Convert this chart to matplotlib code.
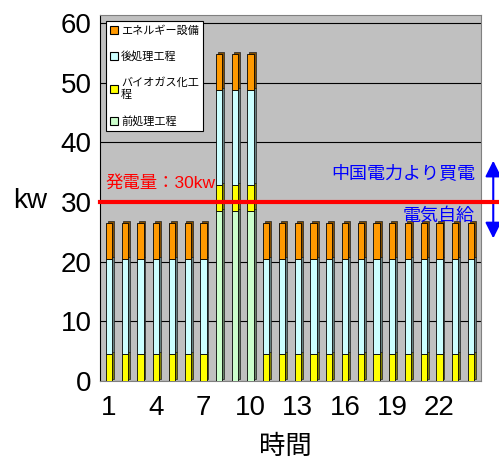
import numpy as np
import matplotlib
matplotlib.use('Agg')
import matplotlib.pyplot as plt
from matplotlib.patches import Patch
from matplotlib.colors import to_rgb

plt.rcParams['font.family'] = ['Liberation Sans', 'Noto Sans CJK JP']

hours = np.arange(1, 25)
# kW per process, stacked bottom to top
pretreat = [0, 0, 0, 0, 0, 0, 0, 28.5, 28.5, 28.5, 0, 0,
            0, 0, 0, 0, 0, 0, 0, 0, 0, 0, 0, 0]
biogas = [4.5, 4.5, 4.5, 4.5, 4.5, 4.5, 4.5, 4.3, 4.3, 4.3, 4.5, 4.5,
          4.5, 4.5, 4.5, 4.5, 4.5, 4.5, 4.5, 4.5, 4.5, 4.5, 4.5, 4.5]
posttreat = [16] * 24
energy = [6] * 24
generation = 30
xticks = [1, 4, 7, 10, 13, 16, 19, 22]

series = [
    ('前処理工程', pretreat, '#CCFFCC'),
    ('バイオガス化工\n程', biogas, '#FFFF00'),
    ('後処理工程', posttreat, '#CCFFFF'),
    ('エネルギー設備', energy, '#FF9900'),
]

fig = plt.figure(figsize=(4.99, 4.63), dpi=100)
ax = fig.add_axes([0.2004, 0.177, 0.7635, 0.7905])
ax.set_facecolor('#C0C0C0')
ax.set_xlim(0.43, 24.64)
ax.set_ylim(0, 61.3)

w = 0.4
dx, dy = 0.12, 0.35

def darker(c, f=0.5):
    r, g, b = to_rgb(c)
    return (r * f, g * f, b * f)

# side/top faces first, then the front faces
bottom = np.zeros(24)
for name, vals, col in series:
    vals = np.array(vals, dtype=float)
    m = vals > 0
    ax.bar(hours[m] + dx, vals[m], w, bottom=bottom[m] + dy,
           color=darker(col), edgecolor='#202020', linewidth=0.5, zorder=2)
    bottom += vals

bottom = np.zeros(24)
for name, vals, col in series:
    vals = np.array(vals, dtype=float)
    m = vals > 0
    ax.bar(hours[m], vals[m], w, bottom=bottom[m],
           color=col, edgecolor='black', linewidth=0.6, zorder=3)
    bottom += vals

ax.set_yticks(np.arange(0, 61, 10))
ax.yaxis.grid(True, color='black', linewidth=0.8)
ax.set_axisbelow(True)
ax.set_xticks(xticks)
ax.tick_params(axis='both', length=0, labelsize=20)
ax.tick_params(axis='x', pad=10)
ax.tick_params(axis='y', pad=6)
for s in ax.spines.values():
    s.set_color('#808080')
ax.spines['left'].set_color('black')

ax.set_xlabel('時間', fontsize=19)
ax.xaxis.set_label_coords(0.486, -0.146)
ax.set_ylabel('kw', fontsize=20, rotation=0, ha='center', va='center')
ax.yaxis.set_label_coords(-0.184, 0.492)

# generation line and self-supply / purchase annotation
ax.plot([0.43, 26.0], [generation, generation], color='#FF0000', lw=3,
        clip_on=False, zorder=5)
ax.text(0.75, 33.2, '発電量：%dkw' % generation, color='#FF0000',
        fontsize=12.5, va='center', ha='left', zorder=6)
ax.text(24.25, 34.7, '中国電力より買電', color='#0000FF', fontsize=13,
        va='center', ha='right', zorder=6)
ax.text(24.25, 27.5, '電気自給', color='#0000FF', fontsize=13,
        va='center', ha='right', zorder=6)
ax.annotate('', xy=(25.42, 36.9), xytext=(25.42, 23.9),
            arrowprops=dict(arrowstyle='<|-|>', color='#0000FF', lw=1.5,
                            mutation_scale=24, shrinkA=0, shrinkB=0),
            annotation_clip=False)

handles = [Patch(facecolor=c, edgecolor='black', linewidth=0.8, label=n)
           for n, v, c in series[::-1]]
leg = ax.legend(handles=handles, loc='upper left',
                bbox_to_anchor=(0.0, 1.0), fontsize=8,
                handlelength=0.7, handleheight=0.7, handletextpad=0.3,
                labelspacing=1.4, borderpad=0.4, fancybox=False,
                framealpha=1, edgecolor='black')
leg.get_frame().set_linewidth(0.8)
leg.set_zorder(10)

fig.savefig('out.png', dpi=100)
